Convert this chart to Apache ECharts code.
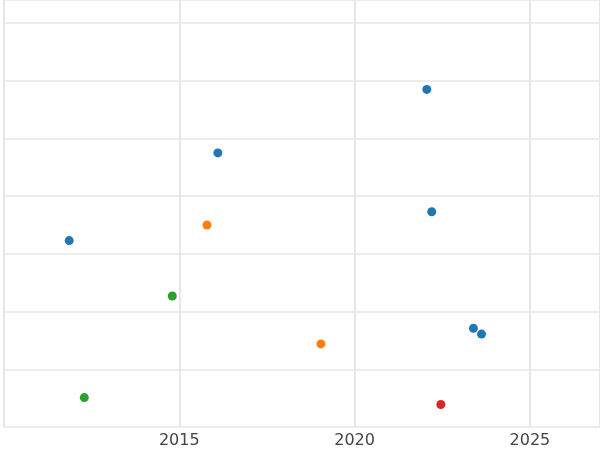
<!DOCTYPE html>
<html>
<head>
<meta charset="utf-8">
<script src="https://cdn.jsdelivr.net/npm/echarts@6/dist/echarts.min.js"></script>
<style>html,body{margin:0;padding:0;background:#fff}#c{width:600px;height:450px}</style>
</head>
<body>
<div id="c"></div>
<script>
// point groups, [year, value]
const blueSeries   = [[2022.06, 5.85], [2016.10, 4.75], [2022.20, 3.73], [2011.86, 3.23], [2023.39, 1.71], [2023.62, 1.61]];
const orangeSeries = [[2015.79, 3.50], [2019.04, 1.44]];
const greenSeries  = [[2014.80, 2.27], [2012.29, 0.51]];
const redSeries    = [[2022.46, 0.39]];
const xTicks = [2015, 2020, 2025];

const chart = echarts.init(document.getElementById('c'));
const mk = (data, color) => ({
  type: 'scatter', data, symbolSize: 9,
  itemStyle: { color, opacity: 1 }
});
chart.setOption({
  animation: false,
  grid: { left: 4, right: -4, top: -6, bottom: 23 },
  xAxis: {
    type: 'value', min: 2010, max: 2027, interval: 5,
    axisLine: { show: false }, axisTick: { show: false },
    axisLabel: {
      showMinLabel: false, showMaxLabel: false, color: '#444', fontSize: 16,
      fontFamily: 'DejaVu Sans', margin: 6,
      formatter: v => xTicks.includes(v) ? String(v) : ''
    },
    splitLine: { lineStyle: { color: '#e6e6e6', width: 2 } }
  },
  yAxis: {
    type: 'value', min: 0, max: 7.4, interval: 1,
    axisLine: { show: false }, axisTick: { show: false }, axisLabel: { show: false },
    splitLine: { lineStyle: { color: '#e6e6e6', width: 1.5 } }
  },
  series: [
    mk(blueSeries, '#1f77b4'),
    mk(orangeSeries, '#ff7f0e'),
    mk(greenSeries, '#2ca02c'),
    mk(redSeries, '#d62728')
  ]
});
</script>
</body>
</html>
